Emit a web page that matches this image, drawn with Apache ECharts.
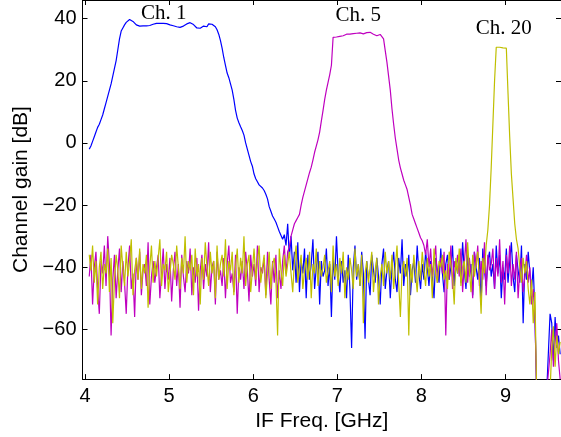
<!DOCTYPE html>
<html>
<head>
<meta charset="utf-8">
<script src="https://cdn.jsdelivr.net/npm/echarts@6/dist/echarts.min.js"></script>
<style>
html,body{margin:0;padding:0;background:#fff;}
#chart{width:561px;height:437px;}
</style>
</head>
<body>
<div id="chart"></div>
<script>
// Sampling grid (GHz): 4.05 .. 9.65 in 0.02 steps, 281 samples
const freqStart = 4.05;
const freqStep = 0.02;
const sampleCount = 281;

const xTicks = [4, 5, 6, 7, 8, 9];
const yTicks = [-60, -40, -20, 0, 20, 40];

// Ch. 1 gain [dB], 10 samples per row
const ch1Gain = [
  -2,-1,0.5,2,3.5,5,6,7.5,9,11,
  13,15,17,19,21.5,24,26.5,30,33.5,36,
  37,38,38.8,39.4,39.7,39.6,39.1,38.5,38,37.7,
  37.6,37.7,37.7,37.6,37.7,37.8,37.8,38,38.2,38.4,
  38.5,38.5,38.5,38.6,38.5,38.5,38.4,38.2,38,37.9,
  37.7,37.6,37.4,37.3,37.2,37.3,37.6,37.8,38.3,38.6,
  38.7,38.6,38.1,37.5,37,36.8,36.9,37.3,37.6,38.2,
  37.4,38.3,37.8,38.2,38.1,37.4,36.4,35,33,30.5,
  27.5,25,22.5,21,19,17,14,10.5,8,6.5,
  5.2,4,2.5,0,-2,-4,-6,-7.5,-10,-11.5,
  -12.5,-13.5,-14,-14.5,-15.3,-16.5,-18,-20.5,-22,-23.5,
  -24.5,-25.5,-27,-28.5,-29,-31,-29.5,-33,-26,-37,
  -30,-41,-35,-45,-32,-48,-38,-42,-34,-50,
  -36,-44,-39,-31,-47,-40,-35,-52,-38,-43,
  -41,-34,-46,-39,-56,-37,-44,-30,-42,-48,
  -38,-45,-41,-50,-36,-47,-66,-40,-33,-44,
  -39,-46,-35,-42,-63,-38,-44,-49,-36,-41,
  -45,-37,-43,-52,-39,-34,-47,-41,-38,-50,
  -40,-35,-44,-48,-37,-42,-31,-46,-39,-43,
  -36,-49,-41,-38,-45,-33,-42,-47,-39,-44,
  -35,-40,-46,-38,-43,-50,-37,-41,-45,-34,
  -42,-48,-39,-36,-44,-40,-33,-46,-38,-42,
  -37,-45,-32,-41,-47,-36,-43,-39,-49,-35,
  -40,-44,-37,-52,-34,-41,-46,-38,-35,-43,
  -39,-47,-33,-42,-36,-50,-40,-44,-34,-45,
  -38,-32,-43,-48,-36,-41,-45,-33,-58,-39,
  -44,-35,-42,-47,-40,-55,-80,-80,-80,-80,
  -80,-80,-80,-80,-55,-58,-70,-56,-66,-62,
  -68
];

// Ch. 5 gain [dB]
const ch5Gain = [
  -43,-36,-52,-40,-35,-47,-55,-38,-42,-33,
  -46,-30,-39,-62,-44,-36,-50,-41,-34,-48,
  -38,-45,-55,-40,-33,-47,-42,-56,-37,-44,
  -35,-49,-41,-39,-46,-32,-52,-43,-38,-45,
  -40,-36,-50,-42,-34,-47,-39,-44,-37,-51,
  -41,-35,-46,-39,-53,-36,-43,-48,-38,-42,
  -34,-49,-40,-45,-37,-54,-41,-36,-47,-39,
  -43,-32,-48,-40,-38,-52,-35,-44,-41,-46,
  -37,-50,-39,-33,-45,-42,-48,-36,-55,-40,
  -44,-38,-47,-35,-41,-51,-36,-43,-39,-46,
  -33,-48,-40,-42,-37,-49,-35,-44,-52,-38,
  -45,-36,-50,-41,-47,-38,-33,-42,-35,-33.5,
  -30,-28,-26,-25,-24,-23,-20,-17.5,-15.5,-13.5,
  -11.5,-9.5,-7.8,-5.5,-3,-1,1,3.5,7,10.4,
  14,17,19.5,22,25,34,34.3,34.1,34.4,34.3,
  34.6,34.5,34.8,35,35.2,35,34.9,35.2,35.4,35.3,
  35.2,35.4,35.3,35.1,35.4,35.5,35.3,35.6,35.2,35,
  34.8,34.5,34.3,34.9,34.2,33.5,29.7,26,21.5,17,
  11,6,1.5,-2,-5.5,-8,-10,-12,-13.5,-15,
  -17.5,-20,-23,-24.5,-26,-27.5,-29,-30.5,-31.5,-33,
  -36,-31,-40,-34,-43,-38,-33,-45,-40,-37,
  -42,-35,-62,-39,-44,-33,-47,-38,-41,-36,
  -43,-34,-48,-39,-31,-45,-37,-42,-50,-35,
  -40,-33,-46,-38,-44,-32,-49,-36,-41,-39,
  -34,-47,-37,-43,-31,-45,-38,-52,-36,-42,
  -33,-46,-39,-44,-35,-50,-41,-37,-48,-43,
  -36,-45,-40,-52,-47,-56,-80,-80,-80,-80,
  -80,-80,-80,-80,-68,-60,-72,-64,-58,-70,
  -76
];

// Ch. 20 gain [dB]
const ch20Gain = [
  -36,-41,-33,-45,-38,-52,-40,-35,-47,-39,
  -42,-34,-48,-37,-58,-44,-36,-41,-50,-33,
  -40,-46,-35,-43,-38,-31,-49,-41,-37,-44,
  -34,-47,-39,-42,-36,-53,-40,-33,-45,-38,
  -43,-37,-31,-46,-39,-41,-35,-48,-42,-36,
  -39,-44,-33,-40,-47,-37,-42,-30,-45,-38,
  -41,-36,-49,-34,-43,-39,-52,-37,-44,-32,
  -40,-46,-35,-42,-38,-50,-33,-44,-39,-36,
  -43,-31,-47,-38,-41,-35,-49,-40,-34,-45,
  -37,-42,-30,-46,-39,-36,-48,-41,-34,-44,
  -38,-33,-45,-40,-36,-50,-42,-35,-47,-39,
  -37,-44,-62,-34,-41,-46,-36,-43,-39,-35,
  -42,-48,-38,-33,-45,-40,-36,-47,-41,-37,
  -44,-35,-50,-39,-42,-34,-46,-38,-43,-40,
  -36,-45,-41,-38,-48,-33,-43,-39,-46,-37,
  -42,-35,-50,-40,-44,-37,-41,-47,-34,-43,
  -39,-46,-36,-58,-42,-38,-45,-40,-35,-48,
  -41,-37,-52,-43,-39,-46,-35,-42,-38,-44,
  -36,-47,-40,-33,-45,-56,-41,-38,-43,-37,
  -62,-39,-45,-36,-42,-48,-38,-44,-35,-41,
  -46,-37,-43,-39,-50,-34,-42,-45,-38,-40,
  -36,-44,-41,-47,-35,-39,-43,-52,-37,-42,
  -34,-46,-40,-38,-45,-32,-41,-48,-36,-43,
  -39,-35,-44,-55,-37,-42,-33,-28,-20,-8,
  6,20,30.8,31,30.8,30.7,30.6,30.8,30.5,16,
  2,-10,-18,-26,-31,-34,-40,-45,-37,-42,
  -38,-47,-52,-44,-58,-48,-80,-80,-80,-80,
  -80,-80,-80,-80,-80,-66,-59,-72,-62,-68,
  -64
];

// Channel annotations
const labelText = ['Ch. 1', 'Ch. 5', 'Ch. 20'];
const labelFreq = [4.937, 7.248, 8.978];
const labelGain = [41.8, 41.0, 36.7];

const seriesNames = ['Ch. 1', 'Ch. 5', 'Ch. 20'];
const seriesGains = [ch1Gain, ch5Gain, ch20Gain];
const seriesColors = ['#0000ff', '#bf00bf', '#bfbf00'];

seriesGains.forEach((g, k) => {
  if (g.length !== sampleCount) throw new Error('length mismatch ' + k + ': ' + g.length);
});

function toPairs(gain) {
  return gain.map((v, i) => [+(freqStart + i * freqStep).toFixed(2), v]);
}

const sansFont = 'Liberation Sans, Arial, Helvetica, sans-serif';
const serifFont = 'Liberation Serif, Times New Roman, serif';

const chart = echarts.init(document.getElementById('chart'), null, {renderer: 'canvas'});

const series = seriesGains.map((g, k) => ({
  name: seriesNames[k],
  type: 'line',
  data: toPairs(g),
  showSymbol: false,
  symbol: 'none',
  clip: true,
  lineStyle: {color: seriesColors[k], width: 1.2},
  itemStyle: {color: seriesColors[k]},
  z: 2 + k,
  animation: false,
  markPoint: {
    symbol: 'circle',
    symbolSize: 0,
    animation: false,
    label: {
      show: true,
      position: 'inside',
      formatter: labelText[k],
      color: '#000',
      fontFamily: serifFont,
      fontSize: 21
    },
    data: [{coord: [labelFreq[k], labelGain[k]]}]
  }
}));

const axisLineStyle = {color: '#000', width: 1};

chart.setOption({
  animation: false,
  backgroundColor: '#fff',
  grid: {left: 82.5, top: -1, width: 479.5, height: 381, containLabel: false},
  xAxis: [{
    type: 'value',
    position: 'bottom',
    min: 3.97,
    max: 9.66,
    name: 'IF Freq. [GHz]',
    nameLocation: 'middle',
    nameGap: 22,
    nameTextStyle: {fontFamily: sansFont, fontSize: 21, color: '#000'},
    axisLine: {show: true, onZero: false, lineStyle: axisLineStyle},
    axisTick: {show: true, inside: true, length: 5, customValues: xTicks, lineStyle: axisLineStyle},
    axisLabel: {show: true, customValues: xTicks, margin: 7, fontFamily: sansFont, fontSize: 20, color: '#000'},
    splitLine: {show: false}
  }, {
    type: 'value',
    position: 'top',
    min: 3.97,
    max: 9.66,
    axisLine: {show: true, onZero: false, lineStyle: axisLineStyle},
    axisTick: {show: true, inside: true, length: 5, customValues: xTicks, lineStyle: axisLineStyle},
    axisLabel: {show: false},
    splitLine: {show: false}
  }],
  yAxis: [{
    type: 'value',
    position: 'left',
    min: -76,
    max: 46,
    name: 'Channel gain [dB]',
    nameLocation: 'middle',
    nameGap: 51,
    nameRotate: 90,
    nameTextStyle: {fontFamily: sansFont, fontSize: 21, color: '#000'},
    axisLine: {show: true, onZero: false, lineStyle: axisLineStyle},
    axisTick: {show: true, inside: true, length: 5, customValues: yTicks, lineStyle: axisLineStyle},
    axisLabel: {show: true, customValues: yTicks, margin: 6, fontFamily: sansFont, fontSize: 20, color: '#000',
      formatter: v => (v < 0 ? '\u2212' + Math.abs(v) : '' + v)},
    splitLine: {show: false}
  }, {
    type: 'value',
    position: 'right',
    min: -76,
    max: 46,
    axisLine: {show: true, onZero: false, lineStyle: axisLineStyle},
    axisTick: {show: true, inside: true, length: 5, customValues: yTicks, lineStyle: axisLineStyle},
    axisLabel: {show: false},
    splitLine: {show: false}
  }],
  series: series
});
</script>
</body>
</html>
